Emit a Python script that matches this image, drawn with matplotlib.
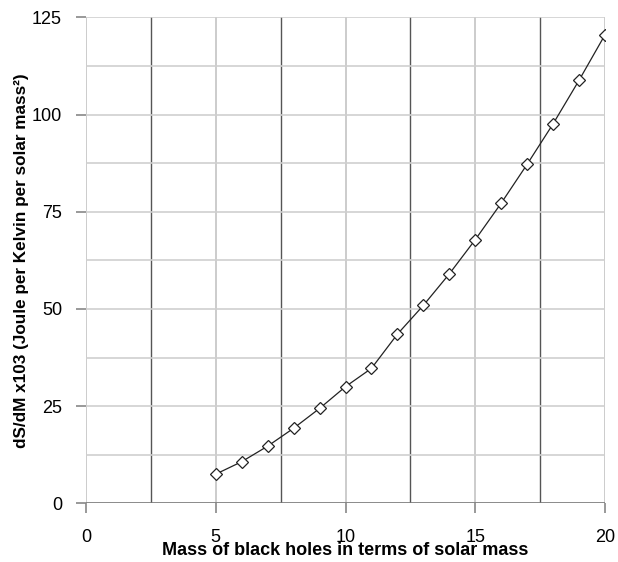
import matplotlib
matplotlib.use("Agg")
import matplotlib.pyplot as plt
import numpy as np

mass = [5, 6, 7, 8, 9, 10, 11, 12, 13, 14, 15, 16, 17, 18, 19, 20]
dsdm = [7.5, 10.7, 14.7, 19.3, 24.4, 30.0, 34.7, 43.5, 50.9, 59.0, 67.8, 77.2, 87.2, 97.6, 108.8, 120.5]
xticks = [0, 5, 10, 15, 20]
yticks = [0, 25, 50, 75, 100, 125]
dark_vlines = [2.5, 7.5, 12.5, 17.5]
light_vlines = [0, 5, 10, 15, 20]
hlines = [12.5, 25, 37.5, 50, 62.5, 75, 87.5, 100, 112.5, 125]

plt.rcParams['font.family'] = ['Liberation Sans', 'DejaVu Sans']

fig = plt.figure(figsize=(6.18, 5.62), dpi=100)
ax = fig.add_axes([86/618, 1-503.3/562, (605-86)/618, (503.3-17.3)/562])

for v in light_vlines:
    ax.axvline(v, color='#c4c4c4', lw=1.2, zorder=1)
for v in dark_vlines:
    ax.axvline(v, color='#555555', lw=1.0, zorder=1)
for h in hlines:
    ax.axhline(h, color='#cfcfcf', lw=1.2, zorder=1)
ax.axhline(0, color='#777777', lw=1.2, zorder=1)

ax.plot(mass, dsdm, color='#222222', lw=0.9, marker='D', markersize=6.5,
        markerfacecolor='white', markeredgecolor='#222222', markeredgewidth=0.9, zorder=3)

ax.set_xlim(0, 20)
ax.set_ylim(0, 125)
ax.set_xticks(xticks)
ax.set_yticks(yticks)
for s in ax.spines.values():
    s.set_visible(False)
ax.tick_params(axis='both', length=7.2, width=1.2, color='#888888', labelsize=13)
ax.tick_params(axis='x', pad=11)
ax.tick_params(axis='y', pad=10)

ax.set_xlabel('Mass of black holes in terms of solar mass', fontsize=13, fontweight='bold', labelpad=-2.5)
ax.set_ylabel('dS/dM x103 (Joule per Kelvin per solar mass²)', fontsize=12.3, fontweight='bold', labelpad=2)

fig.savefig('out.png', dpi=100)
